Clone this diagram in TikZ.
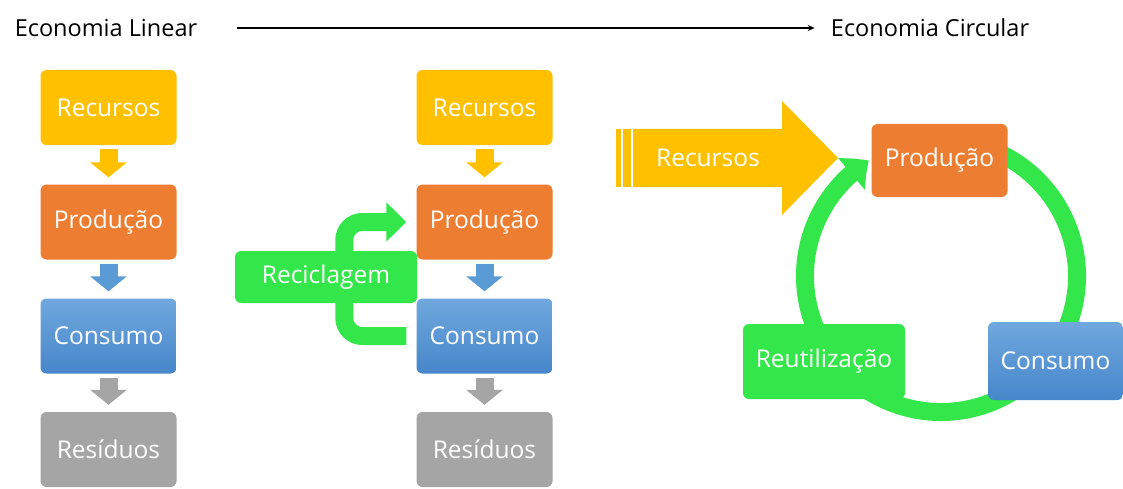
\documentclass[tikz,border=0pt]{standalone}
\usepackage{fontspec}
\setmainfont{Open Sans}
\usepackage{xcolor}
\usepackage{tikz}
\usetikzlibrary{positioning,arrows.meta,bending}

\definecolor{cyellow}{HTML}{FFC000}
\definecolor{corange}{HTML}{ED7D31}
\definecolor{cgray}{HTML}{A5A5A5}
\definecolor{cgreen}{HTML}{33E64A}
\definecolor{cbluetop}{HTML}{70A8DE}
\definecolor{cbluebot}{HTML}{4686CA}
\definecolor{cblue}{HTML}{5B9BD5}

\begin{document}
\begin{tikzpicture}[
            x=1pt, y=-1pt,
            box/.style={rounded corners=6pt, minimum width=136pt, minimum height=75pt, inner sep=0pt,
                text=white, font=\fontsize{24.5}{27}\selectfont},
            ybox/.style={box, fill=cyellow},
            obox/.style={box, fill=corange},
            bbox/.style={box, top color=cbluetop, bottom color=cbluebot},
            gbox/.style={box, fill=cgray},
            vbox/.style={box, fill=cgreen},
            flow/.style={line width=18pt, -{Triangle[width=36pt,length=15pt]}, shorten <=4pt, shorten >=7pt},
            title/.style={inner sep=0pt, font=\fontsize{23.5}{26}\selectfont}
        ]
            \useasboundingbox (0,0) rectangle (1123,489);
            % Titles
            \node[title] (lin) at (106,28) {Economia Linear};
            \node[title] (circ) at (930,28) {Economia Circular};
            \draw[line width=1.2pt, -{Stealth[length=7pt,width=6pt]}, shorten <=40pt, shorten >=16pt] (lin) -- (circ);

            % Linear
            \node[ybox] (rec1) at (108.5,107.5) {Recursos};
            \node[obox] (pro1) at (108.5,222) {Produção};
            \node[bbox] (con1) at (108.5,336) {Consumo};
            \node[gbox] (res1) at (108.5,449.5) {Resíduos};
            \draw[flow, cyellow] (rec1) -- (pro1);
            \draw[flow, cblue] (pro1) -- (con1);
            \draw[flow, cgray] (con1) -- (res1);

            % Reciclagem
            \node[ybox] (rec2) at (484.5,107.5) {Recursos};
            \node[obox] (pro2) at (484.5,222) {Produção};
            \node[bbox] (con2) at (484.5,336) {Consumo};
            \node[gbox] (res2) at (484.5,449.5) {Resíduos};
            \draw[flow, cyellow] (rec2) -- (pro2);
            \draw[flow, cblue] (pro2) -- (con2);
            \draw[flow, cgray] (con2) -- (res2);
            \draw[cgreen, line width=18pt, rounded corners=18pt, -{Triangle[width=38pt,length=20pt]}]
                ([xshift=-10pt]con2.west) -- ++(-62,0) |- ([xshift=-10pt]pro2.west);
            \node[vbox, minimum width=182pt, minimum height=52pt] (recl) at (326,277) {Reciclagem};

            % Circular
            \coordinate (hub) at (941,276);
            \draw[cgreen, line width=18pt, -{Triangle[width=40pt,length=22pt,bend]}]
                ([shift={(-70:136)}]hub) arc[start angle=-70, end angle=238, radius=136];
            \fill[cyellow] (633,129) -- (782,129) -- (782,101) -- (838,158) -- (782,215) -- (782,187) -- (633,187) -- cycle;
            \fill[cyellow] (616,129) rectangle (621,187);
            \fill[cyellow] (623,129) rectangle (631,187);
            \node[text=white, font=\fontsize{24.5}{27}\selectfont] (rec3) at (708,158) {Recursos};
            \node[obox, minimum height=73pt] (pro3) at (939.5,160.5) {Produção};
            \node[vbox, minimum width=162pt] (reu) at (824,361.5) {Reutilização};
            \node[bbox, minimum width=135pt, minimum height=78pt] (con3) at (1055.5,361) {Consumo};
        \end{tikzpicture}
\end{document}
